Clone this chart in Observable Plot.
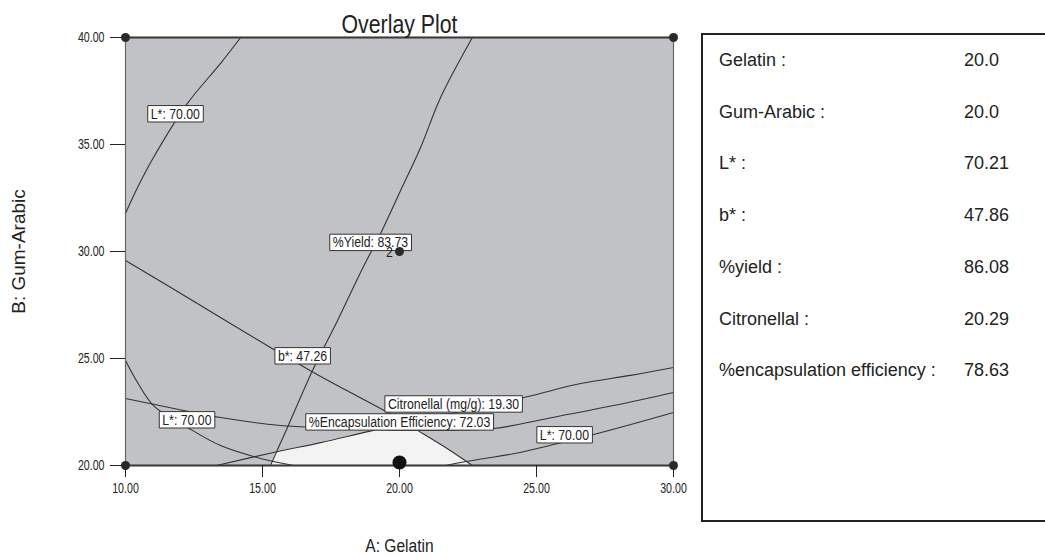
<!DOCTYPE html>
<html>
<head>
<meta charset="utf-8">
<script src="https://cdn.jsdelivr.net/npm/d3@7"></script>
<script src="https://cdn.jsdelivr.net/npm/@observablehq/plot@0.6"></script>
<style>
  body { margin: 0; background: #fff; }
  #wrap { position: relative; width: 1045px; height: 555px; overflow: hidden; background: #fff; }
  #chart { position: absolute; left: 0; top: 0; }
  #legend { position: absolute; left: 701px; top: 33px; width: 400px; height: 489px; border: 2px solid #222; box-sizing: border-box;
            font-family: "Liberation Sans", Arial, sans-serif; font-size: 18px; color: #222; }
  #legend .row { position: absolute; line-height: 20px; white-space: nowrap; }
</style>
</head>
<body>
<div id="wrap">
  <div id="chart"></div>
  <div id="legend"></div>
</div>
<script>
// ---- axis ticks / domains ----
const xDomain = [10, 30];
const yDomain = [20, 40];
const xTicks = [10, 15, 20, 25, 30];
const yTicks = [20, 25, 30, 35, 40];

// ---- contour curves [A: Gelatin, B: Gum-Arabic] ----
const lStarUpper = [[14.20, 40.00], [13.47, 38.79], [12.26, 36.92], [11.02, 34.39], [10.44, 32.99], [10.00, 31.78]];
const yieldCurve = [[22.66, 40.00], [21.50, 37.20], [20.77, 34.86], [20.04, 32.85], [19.31, 30.84], [18.65, 29.21], [17.74, 26.78], [16.86, 24.53], [15.91, 21.78], [15.29, 20.00]];
const bStarCurve = [[10.00, 29.58], [12.26, 27.85], [15.29, 25.51], [16.86, 24.35], [18.21, 23.41], [19.56, 22.48], [20.66, 21.64], [21.68, 20.84], [22.66, 20.00]];
const lStarLowerLeft = [[10.00, 24.91], [10.44, 23.88], [11.02, 22.80], [12.26, 21.78], [13.47, 20.93], [14.93, 20.33], [16.13, 20.00]];
const encapCurve = [[10.00, 23.13], [12.12, 22.57], [13.47, 22.24], [15.66, 21.87], [17.12, 21.78], [20.04, 21.64], [23.43, 21.73], [25.40, 22.20], [27.81, 22.80], [30.00, 23.41]];
const citronellalCurve = [[13.32, 20.00], [15.40, 20.61], [17.12, 21.07], [19.05, 21.64], [24.53, 23.18], [26.61, 23.83], [28.43, 24.21], [30.00, 24.58]];
const lStarLowerRight = [[21.68, 20.00], [22.96, 20.30], [24.16, 20.55], [27.08, 21.45], [30.00, 22.48]];

// feasible (white) region upper boundary
const feasibleRegion = [[15.29, 20.00], [15.50, 20.63], [17.12, 21.07], [19.05, 21.64], [20.66, 21.64], [21.68, 20.84], [22.66, 20.00]];

// ---- contour labels ----
const labelTexts = ["L*: 70.00", "%Yield: 83.73", "b*: 47.26", "Citronellal (mg/g): 19.30", "%Encapsulation Efficiency: 72.03", "L*: 70.00", "L*: 70.00"];
const labelX = [11.82, 18.94, 16.46, 21.97, 20.00, 12.24, 26.02];
const labelY = [36.43, 30.42, 25.12, 22.87, 22.03, 22.13, 21.43];

// ---- design points ----
const designPoints = [[10, 40], [30, 40], [10, 20], [30, 20], [20, 30]];
const centerPoint = [[20, 30]];
const centerCount = ["2"];
const optimumPoint = [[20, 20]];

// ---- legend ----
const legendLabels = ["Gelatin :", "Gum-Arabic :", "L* :", "b* :", "%yield :", "Citronellal :", "%encapsulation efficiency :"];
const legendValues = ["20.0", "20.0", "70.21", "47.86", "86.08", "20.29", "78.63"];

const title = "Overlay Plot";
const xLabel = "A: Gelatin";
const yLabel = "B: Gum-Arabic";

const FONT = '"Liberation Sans", Arial, sans-serif';
const curves = [lStarUpper, yieldCurve, bStarCurve, lStarLowerLeft, encapCurve, citronellalCurve, lStarLowerRight];
const labels = labelTexts.map((t, i) => ({text: t, x: labelX[i], y: labelY[i]}));

const lineMarks = curves.map(c => Plot.line(c, {x: d => d[0], y: d => d[1], curve: "catmull-rom", stroke: "#333", strokeWidth: 1.1}));

const svg = Plot.plot({
  width: 700,
  height: 555,
  marginLeft: 125,
  marginRight: 27,
  marginTop: 37,
  marginBottom: 90,
  x: {domain: xDomain},
  y: {domain: yDomain},
  style: {fontFamily: FONT, fontSize: "14px", background: "transparent", color: "#222", overflow: "visible"},
  marks: [
    Plot.frame({fill: "#c1c2c6"}),
    Plot.areaY(feasibleRegion, {x: d => d[0], y1: () => yDomain[0], y2: d => d[1], fill: "#f3f3f3", curve: "linear"}),
    ...lineMarks,
    Plot.frame({stroke: "#666", strokeWidth: 1.2}),
    Plot.ruleY(yDomain, {stroke: "#3a3a3a", strokeWidth: 2}),
    Plot.axisX({ticks: xTicks, tickFormat: ".2f", tickSize: 12, tickPadding: 6, fontSize: 14, label: null}),
    Plot.axisY({ticks: yTicks, tickFormat: ".2f", tickSize: 15, tickPadding: 6, fontSize: 14, label: null}),
    Plot.text(labels, {x: "x", y: "y", text: "text", fontSize: 15, fill: "#222"}),
    Plot.dot(designPoints, {x: d => d[0], y: d => d[1], r: 4.5, fill: "#2a2a2a"}),
    Plot.dot(optimumPoint, {x: d => d[0], y: d => d[1], r: 7, fill: "#111", dy: -3}),
    Plot.text(centerPoint, {x: d => d[0], y: d => d[1], text: (d, i) => centerCount[i], dx: -10, dy: 1, fontSize: 15, fill: "#222"}),
    Plot.text([title], {frameAnchor: "top", lineAnchor: "bottom", dy: -5, fontSize: 26, fill: "#222"}),
    Plot.text([xLabel], {frameAnchor: "bottom", lineAnchor: "bottom", dy: 86, fontSize: 19, fill: "#222"}),
    Plot.text([yLabel], {frameAnchor: "left", rotate: -90, textAnchor: "middle", dx: -107, fontSize: 19, fill: "#222"})
  ]
});

document.getElementById("chart").appendChild(svg);

// condense (narrow) all SVG texts except the y-axis title
const tickSet = new Set([...xTicks, ...yTicks].map(v => v.toFixed(2)));
svg.querySelectorAll("text").forEach(t => {
  if (t.textContent === yLabel) return;
  const sx = tickSet.has(t.textContent) ? 0.76 : 0.82;
  const tr = t.getAttribute("transform");
  if (tr) {
    t.setAttribute("transform", tr + ` scale(${sx},1)`);
  } else {
    const x = +(t.getAttribute("x") || 0), y = +(t.getAttribute("y") || 0);
    t.removeAttribute("x"); t.removeAttribute("y");
    t.setAttribute("transform", `translate(${x},${y}) scale(${sx},1)`);
  }
});

// white boxes behind contour labels
const ns = "http://www.w3.org/2000/svg";
const labelSet = new Set(labelTexts);
svg.querySelectorAll("text").forEach(t => {
  if (!labelSet.has(t.textContent)) return;
  const b = t.getBBox();
  const padX = 3 / 0.82;
  const r = document.createElementNS(ns, "rect");
  r.setAttribute("x", b.x - padX);
  r.setAttribute("y", b.y);
  r.setAttribute("width", b.width + 2 * padX);
  r.setAttribute("height", b.height);
  r.setAttribute("fill", "#fff");
  r.setAttribute("stroke", "#333");
  r.setAttribute("stroke-width", 1);
  r.setAttribute("vector-effect", "non-scaling-stroke");
  if (t.getAttribute("transform")) r.setAttribute("transform", t.getAttribute("transform"));
  t.parentNode.insertBefore(r, t);
});

// legend rows
const legend = document.getElementById("legend");
legendLabels.forEach((lab, i) => {
  const top = 15 + i * 51.7;
  const a = document.createElement("div");
  a.className = "row"; a.style.left = "16px"; a.style.top = top + "px"; a.textContent = lab;
  const v = document.createElement("div");
  v.className = "row"; v.style.left = "261px"; v.style.top = top + "px"; v.textContent = legendValues[i];
  legend.appendChild(a); legend.appendChild(v);
});
</script>
</body>
</html>
